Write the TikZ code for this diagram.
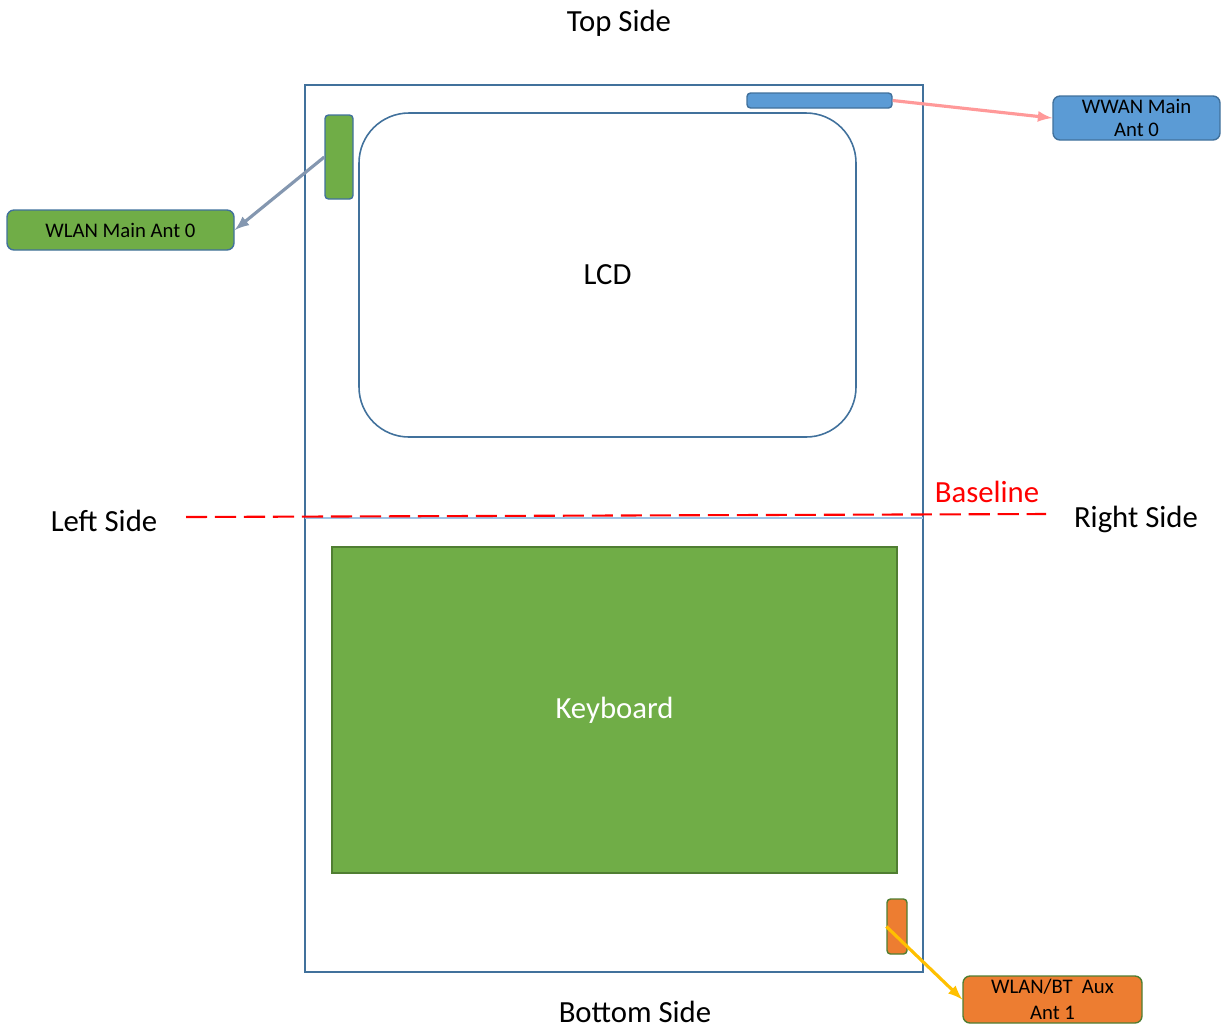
\documentclass[tikz,border=0pt]{standalone}
\usepackage{fontspec}
\setmainfont{Carlito}
\definecolor{edgeblue}{HTML}{41719C}
\definecolor{antblue}{HTML}{5B9BD5}
\definecolor{antgreen}{HTML}{70AD47}
\definecolor{darkgreen}{HTML}{507E32}
\definecolor{antorange}{HTML}{ED7D31}
\definecolor{linkpink}{HTML}{FF9999}
\definecolor{linkgray}{HTML}{8497B0}
\definecolor{linkyellow}{HTML}{FFC000}
\definecolor{paleblue}{HTML}{9DC3E6}
\begin{document}
\begin{tikzpicture}[
    x=0.02cm, y=-0.02cm,
    frame/.style={draw=edgeblue, line width=0.9pt},
    antenna/.style={rectangle, rounded corners=2pt, draw=edgeblue, line width=0.8pt, inner sep=0pt},
    label/.style={rectangle, rounded corners=4pt, draw=edgeblue, line width=0.8pt, inner sep=0pt, font=\fontsize{11.8}{13.5}\selectfont, align=center},
    side/.style={font=\fontsize{17.5}{21}\selectfont},
    conn/.style={-latex, line width=1.8pt}
]
\useasboundingbox (0,0) rectangle (1226,1029);

% Outline of the device
\draw[frame] (305,85) rectangle (923,972);
\draw[paleblue, line width=0.6pt] (305,518) -- (923,518);

% Display and keyboard
\node[draw=edgeblue, line width=0.9pt, rounded corners=1cm, minimum width=497*0.02cm, minimum height=324*0.02cm, side] (lcd) at (607.5,275) {LCD};
\node[fill=antgreen, draw=darkgreen, line width=0.8pt, minimum width=565*0.02cm, minimum height=326*0.02cm, side, text=white] (kbd) at (614.5,710) {Keyboard};

% Antennas
\node[antenna, fill=antblue, minimum width=145*0.02cm, minimum height=15*0.02cm] (wwanant) at (819.5,100.5) {};
\node[antenna, fill=antgreen, minimum width=28*0.02cm, minimum height=84*0.02cm] (wlanant) at (339,157) {};
\node[antenna, fill=antorange, draw=darkgreen, minimum width=20*0.02cm, minimum height=55*0.02cm] (auxant) at (897,926.5) {};

% Antenna labels
\node[label, fill=antblue, minimum width=167*0.02cm, minimum height=44*0.02cm] (wwan) at (1136.5,118) {WWAN Main\\Ant 0};
\node[label, fill=antgreen, minimum width=227*0.02cm, minimum height=40*0.02cm] (wlan) at (120.5,230) {WLAN Main Ant 0};
\node[label, fill=antorange, draw=darkgreen, minimum width=179*0.02cm, minimum height=47*0.02cm, font=\fontsize{11.8}{14.5}\selectfont] (aux) at (1052.5,999.5) {WLAN/BT\ \ Aux\\Ant 1};

% Links
\draw[conn, linkpink] (wwanant.east) -- (wwan.west);
\draw[conn, linkgray] (wlanant.west) -- (wlan.east);
\draw[conn, linkyellow] (auxant.west) -- (aux.west);

% Baseline
\coordinate (bl) at (186,517);
\coordinate (br) at (1046,514);
\draw[red, line width=1.2pt, dash pattern=on 12pt off 4.5pt] (bl) -- (br);
\node[side, text=red] (base) at (987,492) {Baseline};

% Side names
\node[side] (top) at (619,23) {Top Side};
\node[side] (bottom) at (635,1012) {Bottom Side};
\node[side] (left) at (104,521) {Left Side};
\node[side] (right) at (1136,519) {Right Side};
\end{tikzpicture}
\end{document}
